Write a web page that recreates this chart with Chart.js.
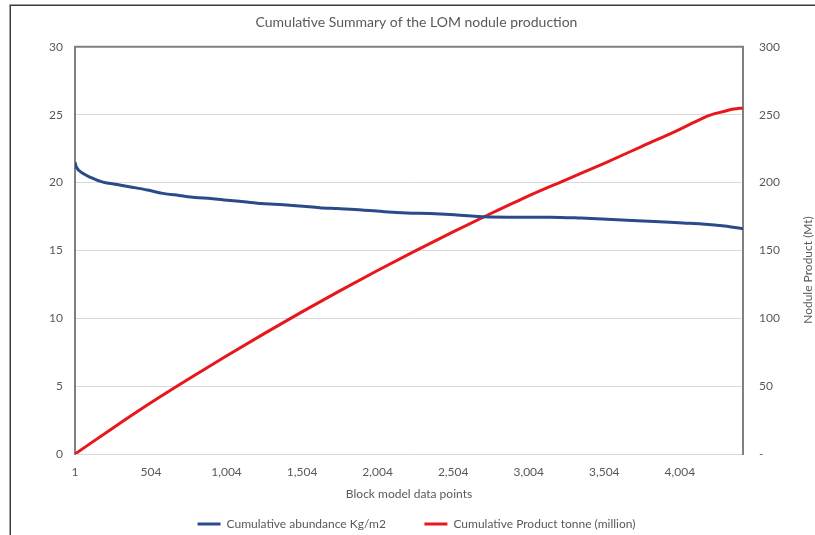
<!DOCTYPE html>
<html><head><meta charset="utf-8">
<script src="https://cdn.jsdelivr.net/npm/chart.js@4"></script>
<style>html,body{margin:0;padding:0;background:#fff}canvas{display:block}</style>
</head><body>
<canvas id="c" width="815" height="535"></canvas>
<script>
// Block model data point index (x) for each series
const abundanceIndex = [1, 5, 14, 50, 100, 186, 280, 378, 480, 583, 690, 795, 900, 1007, 1120, 1239, 1380, 1510, 1620, 1735, 1900, 2050, 2198, 2350, 2483, 2600, 2700, 2950, 3150, 3350, 3590, 3800, 4025, 4150, 4300, 4422];
const abundanceValues = [21.5, 21.3, 21.06, 20.7, 20.4, 20.03, 19.85, 19.66, 19.45, 19.2, 19.05, 18.9, 18.82, 18.7, 18.58, 18.45, 18.36, 18.25, 18.15, 18.08, 17.98, 17.85, 17.76, 17.72, 17.65, 17.55, 17.48, 17.45, 17.45, 17.38, 17.25, 17.15, 17.02, 16.95, 16.8, 16.6];
const productIndex = [1, 250, 500, 750, 1000, 1250, 1500, 1750, 2000, 2250, 2500, 2750, 3000, 3250, 3500, 3750, 4000, 4100, 4200, 4300, 4360, 4422];
const productValues = [0, 19, 37.5, 55, 72, 88.5, 104.5, 120, 135, 149.5, 163.5, 177, 190, 202, 214, 226.5, 239, 244.5, 249.5, 252.5, 254.2, 255];
const xTickValues = [1, 504, 1004, 1504, 2004, 2504, 3004, 3504, 4004];
const seriesNames = ['Cumulative abundance Kg/m2', 'Cumulative Product tonne (million)'];
const chartTitle = 'Cumulative Summary of the LOM nodule production';
const xTitle = 'Block model data points';
const rightTitle = 'Nodule Product (Mt)';

const FONT = 'Lato';
const TXT = '#595959';

const decor = {
  id: 'decor',
  beforeDraw(chart) {
    const ctx = chart.ctx;
    ctx.save();
    ctx.fillStyle = '#fff';
    ctx.fillRect(0, 0, chart.width, chart.height);
    ctx.strokeStyle = '#3c3c3c';
    ctx.lineWidth = 1.5;
    ctx.strokeRect(10.25, 5.25, 900, 700);
    ctx.restore();
  },
  beforeDatasetsDraw(chart) {
    const {ctx, chartArea: a} = chart;
    ctx.save();
    ctx.strokeStyle = '#808080';
    ctx.lineWidth = 2;
    ctx.beginPath();
    ctx.moveTo(a.left - 1, a.top);
    ctx.lineTo(a.right + 1, a.top);
    ctx.stroke();
    ctx.restore();
  },
  afterDraw(chart) {
    const ctx = chart.ctx;
    ctx.save();
    ctx.fillStyle = TXT;
    ctx.font = '12px ' + FONT;
    ctx.textAlign = 'center';
    ctx.textBaseline = 'middle';
    ctx.translate(808, 270);
    ctx.rotate(-Math.PI / 2);
    ctx.fillText(rightTitle, 0, 0);
    ctx.restore();
  }
};

new Chart(document.getElementById('c'), {
  type: 'line',
  data: {
    datasets: [
      {
        label: seriesNames[0],
        data: abundanceIndex.map((x, i) => ({x, y: abundanceValues[i]})),
        borderColor: '#2B4A8B',
        backgroundColor: '#2B4A8B',
        borderWidth: 3,
        pointRadius: 0,
        cubicInterpolationMode: 'monotone',
        yAxisID: 'y'
      },
      {
        label: seriesNames[1],
        data: productIndex.map((x, i) => ({x, y: productValues[i]})),
        borderColor: '#E8171C',
        backgroundColor: '#E8171C',
        borderWidth: 3,
        pointRadius: 0,
        cubicInterpolationMode: 'monotone',
        yAxisID: 'y1'
      }
    ]
  },
  options: {
    responsive: false,
    animation: false,
    devicePixelRatio: 1,
    layout: {padding: {left: 18, right: 0, top: 0, bottom: -5}},
    plugins: {
      title: {
        display: true,
        text: chartTitle,
        color: TXT,
        font: {family: FONT, size: 14, weight: 'normal'},
        padding: {top: 14, bottom: 16}
      },
      legend: {
        position: 'bottom',
        labels: {
          color: TXT,
          font: {family: FONT, size: 12},
          usePointStyle: true,
          pointStyle: 'line',
          pointStyleWidth: 23,
          padding: 14,
          generateLabels: chart => {
            const items = Chart.defaults.plugins.legend.labels.generateLabels(chart);
            items.forEach(it => { it.lineWidth = 3; it.pointStyle = 'line'; });
            items[0].text = items[0].text + '        ';
            return items;
          }
        }
      },
      tooltip: {enabled: false}
    },
    scales: {
      x: {
        type: 'linear',
        min: 1,
        max: 4422,
        afterBuildTicks: s => { s.ticks = xTickValues.map(v => ({value: v})); },
        afterFit: s => { s.height = 50; },
        ticks: {
          color: TXT,
          font: {family: FONT, size: 12},
          padding: 11,
          maxRotation: 0,
          autoSkip: false,
          callback: v => v.toLocaleString('en-US')
        },
        grid: {display: false, drawTicks: false},
        border: {display: false},
        title: {display: true, text: xTitle, color: TXT, font: {family: FONT, size: 12}, padding: {top: 4, bottom: 3}}
      },
      y: {
        position: 'left',
        min: 0, max: 30,
        afterFit: s => { s.width = 57; },
        ticks: {stepSize: 5, color: TXT, font: {family: FONT, size: 12}, padding: 12},
        grid: {color: '#D9D9D9', lineWidth: 1, drawTicks: false},
        border: {display: true, color: '#808080', width: 2}
      },
      y1: {
        position: 'right',
        min: 0, max: 300,
        afterFit: s => { s.width = 72; },
        ticks: {stepSize: 50, color: TXT, font: {family: FONT, size: 12}, padding: 16,
          callback: v => v === 0 ? '-' : v},
        grid: {display: false, drawTicks: false},
        border: {display: true, color: '#808080', width: 2}
      }
    }
  },
  plugins: [decor]
});
</script>
</body></html>
